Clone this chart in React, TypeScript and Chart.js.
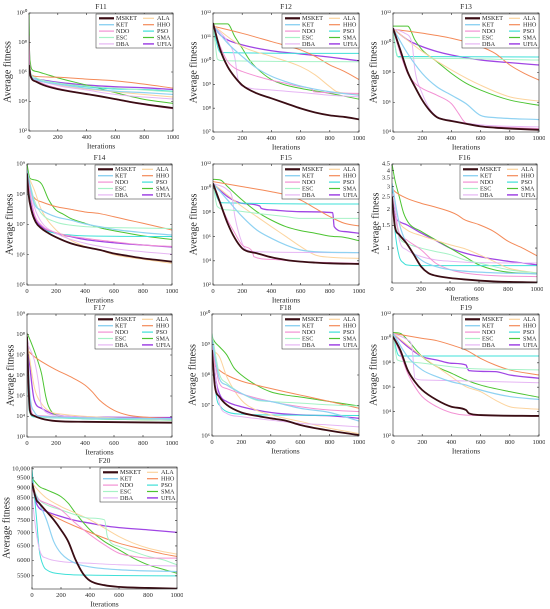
import React, { useEffect, useRef } from 'react';
import { Chart, registerables } from 'chart.js';
Chart.register(...registerables);

type Series = [number, number][];
type PanelData = Record<string, Series>;

const ALGOS = ['MSKET', 'KET', 'NDO', 'ESC', 'DBA', 'ALA', 'HHO', 'PSO', 'SMA', 'UFIA'];
const COLORS: Record<string, string> = {
  MSKET: '#3a0d14', KET: '#8fd2f2', NDO: '#f392d4', ESC: '#a6f2c6', DBA: '#e6b6f4',
  ALA: '#fcd49e', HHO: '#f48a58', PSO: '#3fe0d8', SMA: '#4cc431', UFIA: '#a045e4',
};
const WIDTHS: Record<string, number> = {
  MSKET: 1.8, KET: 1.2, NDO: 1, ESC: 1, DBA: 1, ALA: 1, HHO: 1, PSO: 1, SMA: 1, UFIA: 1.3,
};
const X_TICKS = [0, 200, 400, 600, 800, 1000];
const X_LABELS = ['0', '200', '400', '600', '800', '1000'];

const F11: PanelData = {
  MSKET: [[0, 3e6], [10, 5.6e5], [50, 2.2e5], [100, 1.3e5], [200, 6.9e4], [300, 4.6e4], [400, 3.2e4], [500, 2.2e4], [600, 1.45e4], [700, 9.5e3], [800, 6.6e3], [900, 4.8e3], [1000, 3.6e3]],
  KET: [[0, 3e6], [10, 7e5], [50, 3e5], [200, 1.5e5], [400, 8e4], [600, 5e4], [800, 4e4], [1000, 3e4]],
  NDO: [[0, 3e8], [5, 3e6], [10, 8e5], [50, 2.8e5], [100, 1.6e5], [200, 8e4], [400, 3.3e4], [600, 1.4e4], [800, 6e3], [1000, 3.2e3]],
  ESC: [[0, 4e6], [10, 1e6], [50, 4e5], [200, 1.8e5], [400, 1.1e5], [600, 8e4], [800, 6e4], [1000, 4.5e4]],
  DBA: [[0, 1e7], [10, 8e5], [50, 3e5], [200, 1.2e5], [400, 6e4], [600, 3e4], [800, 2e4], [1000, 1.5e4]],
  ALA: [[0, 3e6], [10, 6e5], [50, 3e5], [200, 1.3e5], [400, 7e4], [600, 4.5e4], [800, 3e4], [1000, 2e4]],
  HHO: [[0, 5e6], [10, 9e5], [30, 5.5e5], [50, 5e5], [200, 4.4e5], [400, 3.3e5], [600, 2.5e5], [800, 1.5e5], [1000, 8e4]],
  PSO: [[0, 2e6], [10, 5e5], [50, 3.2e5], [200, 1.7e5], [400, 1e5], [600, 7e4], [800, 6.5e4], [1000, 5e4]],
  SMA: [[0, 1e10], [3, 5e7], [10, 4e6], [20, 1.5e6], [50, 1.1e6], [100, 8e5], [200, 4e5], [400, 1.3e5], [600, 4e4], [800, 1.4e4], [1000, 7.5e3]],
  UFIA: [[0, 3e8], [5, 3e6], [10, 6e5], [50, 3.3e5], [100, 2.8e5], [200, 2e5], [400, 1.3e5], [600, 1e5], [800, 8.5e4], [1000, 6.5e4]],
};

const F12: PanelData = {
  MSKET: [[0, 3.8e11], [50, 2.8e10], [100, 5.6e9], [150, 2e9], [200, 9.3e8], [300, 4.2e8], [400, 2.6e8], [500, 1.6e8], [600, 9.8e7], [700, 6.6e7], [800, 5e7], [900, 4.3e7], [1000, 3.4e7]],
  KET: [[0, 3e11], [100, 5.4e10], [200, 1.5e10], [300, 4.8e9], [400, 2.2e9], [500, 1.3e9], [600, 8.5e8], [800, 4.9e8], [1000, 3.5e8]],
  NDO: [[0, 3e11], [50, 3.9e10], [100, 9.2e9], [150, 4.8e9], [200, 3.5e9], [300, 2.2e9], [400, 1.5e9], [500, 1.1e9], [600, 8e8], [680, 6.1e8], [690, 4.9e8], [1000, 4.2e8]],
  ESC: [[0, 3e11], [15, 5.4e10], [30, 1.15e10], [60, 1e10], [1000, 9e9]],
  DBA: [[0, 3e11], [100, 6.3e10], [150, 1.26e10], [170, 1.8e9], [185, 1e9], [200, 8.5e8], [400, 5.8e8], [600, 4.6e8], [800, 3.5e8], [1000, 3e8]],
  ALA: [[0, 3e11], [200, 3.9e10], [400, 1.5e10], [600, 5.6e9], [700, 2.5e9], [800, 8e8], [850, 4.9e8], [1000, 3.9e8]],
  HHO: [[0, 2.8e11], [200, 1.4e11], [400, 6.3e10], [600, 2.8e10], [700, 1.5e10], [800, 6.6e9], [900, 3.5e9], [1000, 1.6e9]],
  PSO: [[0, 3e11], [20, 7.4e10], [50, 2.2e10], [1000, 2e10]],
  SMA: [[0, 3.5e11], [100, 3.5e11], [150, 1e11], [200, 3.3e10], [250, 1.07e10], [300, 4.8e9], [400, 1.6e9], [500, 9.3e8], [600, 6.8e8], [800, 4.2e8], [1000, 2.4e8]],
  UFIA: [[0, 3e11], [50, 1.2e11], [100, 7.4e10], [200, 4.6e10], [400, 2.6e10], [600, 1.9e10], [800, 1.4e10], [1000, 9.8e9]],
};

const F13: PanelData = {
  MSKET: [[0, 9.5e10], [50, 3.3e9], [100, 1.1e8], [150, 1.1e7], [200, 1.4e6], [250, 2.9e5], [300, 1e5], [350, 6.8e4], [400, 5.5e4], [500, 3.6e4], [600, 2.4e4], [700, 1.95e4], [800, 1.7e4], [1000, 1.4e4]],
  KET: [[0, 9e10], [100, 1.9e9], [200, 8.7e7], [300, 1.1e7], [400, 3e6], [500, 8.1e5], [600, 1.3e5], [700, 9.3e4], [1000, 6.8e4]],
  NDO: [[0, 9e10], [50, 1.9e9], [100, 8.7e7], [150, 1.9e7], [200, 8.5e6], [300, 3e6], [400, 8.1e5], [450, 1.7e5], [480, 6.1e4], [500, 4e4], [700, 2.2e4], [1000, 1.7e4]],
  ESC: [[0, 9e10], [20, 3.2e9], [40, 1e9], [200, 9e8], [1000, 6.9e8]],
  DBA: [[0, 9e10], [80, 4.4e10], [130, 9.3e9], [150, 1.5e8], [200, 3.9e6], [250, 3.8e5], [300, 1.1e5], [400, 6.1e4], [600, 3e4], [1000, 2.2e4]],
  ALA: [[0, 9e10], [200, 2.6e9], [400, 1.5e8], [600, 1.4e7], [800, 2.3e6], [1000, 1.2e6]],
  HHO: [[0, 8.1e10], [200, 4.4e10], [400, 2e10], [600, 5.5e9], [700, 1.9e9], [800, 3.2e8], [900, 8.7e7], [1000, 3.1e7]],
  PSO: [[0, 9e10], [15, 5.5e9], [30, 1.2e9], [1000, 1.1e9]],
  SMA: [[0, 1.3e11], [100, 1.3e11], [150, 1.55e10], [200, 3.3e9], [300, 5.4e8], [400, 8.7e7], [500, 1.9e7], [600, 6.6e6], [800, 1.4e6], [1000, 6.3e5]],
  UFIA: [[0, 9e10], [100, 1.55e10], [200, 5.5e9], [300, 2.6e9], [400, 1.5e9], [600, 6.9e8], [800, 4.6e8], [1000, 3.2e8]],
};

const F14: PanelData = {
  MSKET: [[0, 4.9e8], [10, 1.07e8], [30, 3e7], [60, 1.2e7], [100, 7.4e6], [150, 5.1e6], [200, 3.8e6], [300, 2.4e6], [400, 1.8e6], [500, 1.45e6], [600, 1.1e6], [700, 9.1e5], [800, 7.6e5], [900, 6.7e5], [1000, 5.9e5]],
  KET: [[0, 6.3e8], [50, 5e7], [100, 3e7], [200, 1.8e7], [300, 1.4e7], [400, 1.05e7], [500, 8.5e6], [600, 6.9e6], [800, 5.4e6], [1000, 4.5e6]],
  NDO: [[0, 3.8e8], [50, 2.3e7], [100, 9.5e6], [200, 5.4e6], [400, 3.5e6], [600, 2.7e6], [800, 2.1e6], [1000, 1.9e6]],
  ESC: [[0, 6.3e8], [50, 6.5e7], [100, 2.3e7], [200, 1.2e7], [300, 9.5e6], [400, 8.5e6], [600, 7.9e6], [1000, 7.4e6]],
  DBA: [[0, 4.9e8], [50, 3.9e7], [100, 1.2e7], [200, 5.1e6], [400, 2.4e6], [600, 1.6e6], [800, 1.26e6], [1000, 1.05e6]],
  ALA: [[0, 4.9e8], [50, 1.4e8], [100, 3e7], [200, 6.6e6], [300, 3.1e6], [400, 1.9e6], [500, 1.45e6], [600, 1e6], [800, 7.1e5], [1000, 5.2e5]],
  HHO: [[0, 3e8], [30, 1.07e8], [60, 6.8e7], [100, 5.6e7], [200, 3.9e7], [300, 3.2e7], [400, 2.6e7], [500, 2.3e7], [600, 1.8e7], [700, 1.4e7], [800, 1.1e7], [1000, 6.6e6]],
  PSO: [[0, 6.3e8], [30, 3e7], [60, 1.2e7], [100, 7.4e6], [200, 5.1e6], [300, 4.5e6], [400, 4.2e6], [1000, 4e6]],
  SMA: [[0, 1e9], [20, 3.4e8], [50, 3e8], [100, 2.2e8], [150, 6.5e7], [200, 3e7], [250, 2.2e7], [300, 1.6e7], [400, 1.1e7], [500, 7.9e6], [600, 6.2e6], [700, 5.1e6], [800, 4.2e6], [1000, 3.2e6]],
  UFIA: [[0, 6.3e8], [30, 3.9e7], [60, 1.4e7], [100, 8.5e6], [200, 5.1e6], [300, 4e6], [400, 3.2e6], [600, 2.5e6], [800, 2.1e6], [1000, 1.8e6]],
};

const F15: PanelData = {
  MSKET: [[0, 2.5e10], [50, 5.6e8], [100, 1.26e7], [150, 7.2e5], [200, 1.07e5], [230, 6.5e4], [300, 4.2e4], [400, 1.95e4], [500, 1.17e4], [600, 8.5e3], [700, 7.1e3], [800, 6.2e3], [1000, 5.5e3]],
  KET: [[0, 2.5e10], [100, 1.05e9], [200, 4.5e7], [300, 3.5e6], [400, 7.2e5], [500, 2e5], [600, 7.8e4], [700, 5.6e4], [1000, 4.7e4]],
  NDO: [[0, 2.5e10], [50, 5.6e8], [100, 2.3e7], [150, 1.9e6], [200, 2e5], [270, 5.6e4], [280, 2.2e4], [400, 1.3e4], [600, 8.5e3], [1000, 6.2e3]],
  ESC: [[0, 2.5e10], [30, 3e8], [100, 1.6e8], [300, 8.3e7], [500, 4.5e7], [600, 3.2e7], [1000, 3.2e7]],
  DBA: [[0, 2.5e10], [100, 7.1e9], [130, 2e9], [150, 4.5e7], [200, 2.8e5], [230, 7.8e4], [300, 5.6e4], [1000, 4.7e4]],
  ALA: [[0, 2.5e10], [200, 3e8], [300, 4.5e7], [400, 6.6e6], [500, 1e6], [600, 1.5e5], [700, 3e4], [800, 1.95e4], [1000, 1.6e4]],
  HHO: [[0, 3.5e10], [200, 1.35e10], [400, 5.1e9], [500, 2.8e9], [600, 1.05e9], [700, 2.2e8], [800, 4.5e7], [900, 1.26e7], [1000, 7.6e6]],
  PSO: [[0, 2.5e10], [30, 1.45e9], [60, 6.3e8], [1000, 4.9e8]],
  SMA: [[0, 5.4e10], [50, 4.8e10], [100, 1.35e10], [200, 1.05e9], [300, 1.15e8], [400, 2.3e7], [500, 6.6e6], [600, 3.1e6], [700, 1.9e6], [800, 1.1e6], [900, 8.7e5], [1000, 4.6e5]],
  UFIA: [[0, 2.5e10], [100, 2e9], [200, 5.6e8], [320, 3.4e8], [330, 2.2e8], [400, 1.6e8], [600, 1.15e8], [820, 9.5e7], [830, 6.6e6], [900, 2.6e6], [1000, 1.9e6]],
};

const F16: PanelData = {
  MSKET: [[0, 2.51], [20, 1.47], [50, 1.27], [100, 1.09], [150, 0.89], [200, 0.72], [250, 0.64], [300, 0.61], [400, 0.585], [500, 0.57], [700, 0.55], [1000, 0.54]],
  KET: [[0, 3.19], [50, 1.56], [100, 1.09], [200, 0.81], [300, 0.72], [400, 0.68], [600, 0.65], [1000, 0.63]],
  NDO: [[0, 2.23], [50, 1.31], [100, 1.16], [200, 0.97], [300, 0.765], [400, 0.68], [500, 0.64], [700, 0.61], [1000, 0.6]],
  ESC: [[0, 2.37], [50, 1.23], [100, 1.09], [200, 1.0], [300, 0.94], [400, 0.89], [500, 0.81], [600, 0.765], [800, 0.68], [1000, 0.64]],
  DBA: [[0, 2.67], [30, 1.76], [50, 1.16], [100, 0.97], [200, 0.86], [300, 0.81], [400, 0.79], [600, 0.77], [1000, 0.765]],
  ALA: [[0, 2.67], [50, 1.61], [100, 1.39], [200, 1.25], [300, 1.15], [400, 1.06], [500, 0.99], [600, 0.89], [700, 0.79], [800, 0.7], [1000, 0.64]],
  HHO: [[0, 2.92], [20, 2.75], [100, 2.44], [200, 2.23], [300, 2.08], [400, 1.92], [450, 1.81], [500, 1.66], [600, 1.52], [700, 1.35], [800, 1.13], [900, 1.0], [1000, 0.87]],
  PSO: [[0, 3.0], [20, 1.39], [50, 0.86], [80, 0.765], [100, 0.74], [200, 0.73], [1000, 0.73]],
  SMA: [[0, 4.5], [20, 3.39], [50, 2.51], [80, 1.87], [120, 1.54], [200, 1.35], [300, 1.16], [400, 1.0], [500, 0.86], [600, 0.74], [700, 0.68], [800, 0.65], [1000, 0.63]],
  UFIA: [[0, 2.83], [20, 1.81], [50, 1.61], [100, 1.52], [200, 1.31], [300, 1.15], [400, 1.0], [500, 0.915], [600, 0.86], [700, 0.82], [800, 0.79], [900, 0.765], [1000, 0.74]],
};

const F17: PanelData = {
  MSKET: [[0, 8e7], [10, 4.1e5], [20, 2e4], [40, 1.15e4], [100, 7.9e3], [200, 6e3], [400, 5.5e3], [1000, 5e3]],
  KET: [[0, 8e7], [20, 1.3e5], [50, 1.7e4], [100, 1e4], [1000, 7.9e3]],
  NDO: [[0, 1.2e8], [20, 6.3e4], [50, 1.15e4], [1000, 7.9e3]],
  ESC: [[0, 1.2e7], [20, 1.4e4], [100, 8.9e3], [1000, 6.6e3]],
  DBA: [[0, 3.8e7], [50, 5.8e6], [80, 4.1e5], [100, 3e4], [200, 1.15e4], [1000, 7.4e3]],
  ALA: [[0, 5.5e7], [50, 2.8e5], [100, 4.3e4], [200, 1.4e4], [1000, 7.9e3]],
  HHO: [[0, 1.8e7], [50, 8.3e6], [100, 4.8e6], [200, 1.9e6], [300, 8.7e5], [400, 3.4e5], [450, 1.6e5], [500, 6.3e4], [600, 2e4], [700, 1.15e4], [800, 9.5e3], [1000, 7.9e3]],
  PSO: [[0, 1.8e7], [15, 2e4], [50, 9.5e3], [1000, 7.1e3]],
  SMA: [[0, 1.2e8], [30, 3.8e7], [80, 3.9e6], [100, 1.26e6], [130, 9.1e4], [150, 3e4], [200, 1.15e4], [400, 7.9e3], [1000, 6.6e3]],
  UFIA: [[0, 8e7], [20, 2.7e6], [50, 6.3e4], [100, 2.5e4], [200, 1.2e4], [400, 9.5e3], [1000, 8.9e3]],
};

const F18: PanelData = {
  MSKET: [[0, 6.6e8], [20, 4.2e7], [50, 1.95e7], [100, 1.05e7], [200, 5.9e6], [300, 4.6e6], [400, 3.8e6], [500, 3.2e6], [600, 2.3e6], [800, 1.5e6], [1000, 1.07e6]],
  KET: [[0, 1.4e9], [50, 7.8e7], [100, 4.7e7], [200, 2.5e7], [300, 1.6e7], [400, 1.35e7], [500, 1.05e7], [600, 8.1e6], [800, 5.9e6], [1000, 3.1e6]],
  NDO: [[0, 1.1e9], [50, 5.4e7], [100, 3.6e7], [200, 2.4e7], [400, 1.35e7], [600, 9.1e6], [800, 7.1e6], [1000, 6.3e6]],
  ESC: [[0, 2.3e9], [50, 1.1e8], [100, 5.4e7], [200, 2.5e7], [300, 1.5e7], [400, 1.35e7], [600, 1.2e7], [800, 1.05e7], [1000, 9.6e6]],
  DBA: [[0, 8.5e8], [50, 1.2e7], [100, 5.5e6], [200, 4.3e6], [400, 3.3e6], [600, 2.6e6], [800, 2.3e6], [1000, 2e6]],
  ALA: [[0, 6.6e8], [50, 4e8], [100, 8.9e7], [200, 1.5e7], [300, 7.1e6], [400, 4.9e6], [500, 3.8e6], [600, 3e6], [800, 1.8e6], [1000, 1.2e6]],
  HHO: [[0, 6.6e8], [20, 2.1e8], [50, 1.45e8], [100, 1e8], [200, 6.3e7], [300, 4.7e7], [400, 3.6e7], [500, 2.8e7], [600, 2.2e7], [800, 1.35e7], [1000, 8.1e6]],
  PSO: [[0, 6.6e8], [30, 1.95e7], [60, 9.1e6], [100, 6.3e6], [200, 5.2e6], [400, 4.9e6], [1000, 4.7e6]],
  SMA: [[0, 1.8e9], [20, 1.2e9], [50, 8.5e8], [100, 4.6e8], [150, 1.7e8], [200, 1e8], [300, 4.7e7], [400, 2.8e7], [500, 2.2e7], [600, 1.9e7], [800, 1.35e7], [1000, 9.6e6]],
  UFIA: [[0, 8.5e8], [30, 5.4e7], [60, 1.95e7], [100, 1.35e7], [200, 9.1e6], [300, 7.1e6], [400, 5.9e6], [600, 4.9e6], [800, 4.6e6], [1000, 3.8e6]],
};

const F19: PanelData = {
  MSKET: [[0, 1.4e10], [50, 1.1e9], [100, 2.6e7], [150, 2.8e6], [200, 5.9e5], [300, 8.9e4], [400, 2.5e4], [500, 1.35e4], [520, 7.2e3], [600, 5.2e3], [1000, 4.4e3]],
  KET: [[0, 2.6e10], [100, 3.2e8], [200, 2.6e7], [300, 7.2e6], [400, 2.8e6], [500, 1.5e6], [600, 5.9e5], [800, 1.7e5], [1000, 1e5]],
  NDO: [[0, 1.4e10], [50, 6e8], [100, 1.4e7], [150, 1.1e6], [200, 1.7e5], [300, 2.5e4], [400, 8.1e3], [500, 5.2e3], [1000, 4.4e3]],
  ESC: [[0, 2.6e10], [30, 1.7e8], [100, 1.2e8], [300, 6.6e7], [500, 3.5e7], [800, 2.9e7], [1000, 2.6e7]],
  DBA: [[0, 2.6e10], [100, 7.4e9], [130, 2.1e9], [150, 5.4e6], [200, 3.9e6], [1000, 2.3e6]],
  ALA: [[0, 2.6e10], [200, 3.2e8], [300, 4.8e7], [400, 7.2e6], [500, 1.1e6], [600, 4.3e5], [700, 8.9e4], [800, 2.5e4], [900, 1.85e4], [1000, 1.55e4]],
  HHO: [[0, 2.6e10], [200, 1e10], [300, 6.5e9], [400, 2.9e9], [500, 1.1e9], [600, 2.3e8], [700, 6.6e7], [800, 2.6e7], [1000, 1e7]],
  PSO: [[0, 2.6e10], [30, 6e8], [50, 3.6e8], [1000, 3.6e8]],
  SMA: [[0, 3e10], [50, 2.6e10], [100, 7.4e9], [200, 3.2e8], [300, 4.8e7], [400, 1.4e7], [500, 3.9e6], [600, 1.5e6], [800, 4.3e5], [1000, 1.5e5]],
  UFIA: [[0, 2.6e10], [100, 2.1e9], [200, 3.2e8], [300, 1.7e8], [400, 9.1e7], [500, 6.6e7], [510, 3.5e7], [520, 2.3e7], [700, 1.9e7], [800, 1e7], [1000, 5.4e6]],
};

const F20: PanelData = {
  MSKET: [[0, 9230], [30, 8410], [50, 8250], [100, 7880], [150, 7520], [200, 7110], [250, 6660], [300, 6020], [350, 5580], [400, 5350], [500, 5220], [600, 5170], [800, 5140], [1000, 5120]],
  KET: [[0, 9060], [50, 8250], [100, 7520], [150, 6660], [200, 6240], [300, 5900], [400, 5780], [600, 5690], [1000, 5630]],
  NDO: [[0, 8890], [50, 8410], [100, 8250], [200, 7950], [300, 7380], [400, 6920], [500, 6540], [600, 6240], [700, 6130], [800, 6070], [1000, 6070]],
  ESC: [[0, 9060], [50, 8410], [100, 8180], [200, 7950], [300, 7730], [400, 7590], [500, 7520], [520, 6850], [600, 6480], [700, 6300], [800, 6130], [900, 6020], [1000, 5850]],
  DBA: [[0, 8560], [30, 6980], [60, 6240], [100, 6070], [200, 5960], [400, 5900], [600, 5850], [1000, 5810]],
  ALA: [[0, 9230], [50, 8810], [100, 8490], [200, 8100], [300, 7810], [400, 7520], [500, 7180], [600, 6850], [700, 6600], [800, 6420], [900, 6300], [1000, 6210]],
  HHO: [[0, 9230], [50, 8250], [100, 7880], [200, 7520], [300, 7250], [400, 7010], [500, 6790], [600, 6600], [700, 6460], [800, 6340], [900, 6220], [1000, 6130]],
  PSO: [[0, 9950], [30, 7660], [50, 6360], [80, 5800], [100, 5690], [200, 5560], [400, 5520], [1000, 5500]],
  SMA: [[0, 9490], [50, 9060], [100, 8890], [200, 8560], [250, 8250], [300, 7810], [400, 7110], [500, 6660], [600, 6360], [700, 6070], [800, 5850], [900, 5710], [1000, 5580]],
  UFIA: [[0, 9320], [30, 8250], [100, 7880], [200, 7660], [300, 7490], [400, 7380], [500, 7270], [600, 7200], [800, 7110], [1000, 7010]],
};

const TICKS_2_10 = [1e2, 1e4, 1e6, 1e8, 1e10];
const LABELS_2_10 = ['10²', '10⁴', '10⁶', '10⁸', '10¹⁰'];
const TICKS_7_12 = [1e7, 1e8, 1e9, 1e10, 1e11, 1e12];
const LABELS_7_12 = ['10⁷', '10⁸', '10⁹', '10¹⁰', '10¹¹', '10¹²'];
const TICKS_4_12 = [1e4, 1e6, 1e8, 1e10, 1e12];
const LABELS_4_12 = ['10⁴', '10⁶', '10⁸', '10¹⁰', '10¹²'];
const TICKS_5_9 = [1e5, 1e6, 1e7, 1e8, 1e9];
const LABELS_5_9 = ['10⁵', '10⁶', '10⁷', '10⁸', '10⁹'];
const TICKS_2_12 = [1e2, 1e4, 1e6, 1e8, 1e10, 1e12];
const LABELS_2_12 = ['10²', '10⁴', '10⁶', '10⁸', '10¹⁰', '10¹²'];
const TICKS_F16 = [1, 1.5, 2, 2.5, 3, 3.5, 4, 4.5];
const LABELS_F16 = ['1', '1.5', '2', '2.5', '3', '3.5', '4', '4.5'];
const TICKS_3_9 = [1e3, 1e4, 1e5, 1e6, 1e7, 1e8, 1e9];
const LABELS_3_9 = ['10³', '10⁴', '10⁵', '10⁶', '10⁷', '10⁸', '10⁹'];
const TICKS_6_10 = [1e6, 1e7, 1e8, 1e9, 1e10];
const LABELS_6_10 = ['10⁶', '10⁷', '10⁸', '10⁹', '10¹⁰'];
const TICKS_F20 = [5500, 6000, 6500, 7000, 7500, 8000, 8500, 9000, 9500, 10000];
const LABELS_F20 = ['5500', '6000', '6500', '7000', '7500', '8000', '8500', '9000', '9500', '10,000'];

interface PanelCfg {
  title: string; data: PanelData; yMin: number; yMax: number; ticks: number[]; labels: string[];
  L: number; R: number; T: number; B: number; cx: number; off: number;
}

const PANELS: PanelCfg[] = [
  { title: 'F11', data: F11, yMin: 1e2, yMax: 1e10, ticks: TICKS_2_10, labels: LABELS_2_10, L: 29, R: 173, T: 13, B: 131, cx: 0, off: 21 },
  { title: 'F12', data: F12, yMin: 1e7, yMax: 1e12, ticks: TICKS_7_12, labels: LABELS_7_12, L: 213, R: 359, T: 13, B: 132, cx: 180, off: 19 },
  { title: 'F13', data: F13, yMin: 1e4, yMax: 1e12, ticks: TICKS_4_12, labels: LABELS_4_12, L: 393, R: 539, T: 13, B: 132, cx: 360, off: 19 },
  { title: 'F14', data: F14, yMin: 1e5, yMax: 1e9, ticks: TICKS_5_9, labels: LABELS_5_9, L: 27, R: 172, T: 164, B: 285, cx: 0, off: 17 },
  { title: 'F15', data: F15, yMin: 1e2, yMax: 1e12, ticks: TICKS_2_12, labels: LABELS_2_12, L: 213, R: 359, T: 164, B: 285, cx: 180, off: 19 },
  { title: 'F16', data: F16, yMin: 0.535, yMax: 4.5, ticks: TICKS_F16, labels: LABELS_F16, L: 392, R: 537, T: 164, B: 283, cx: 360, off: 16 },
  { title: 'F17', data: F17, yMin: 1e3, yMax: 1e9, ticks: TICKS_3_9, labels: LABELS_3_9, L: 27, R: 172, T: 314, B: 437, cx: 0, off: 16 },
  { title: 'F18', data: F18, yMin: 1e6, yMax: 1e10, ticks: TICKS_6_10, labels: LABELS_6_10, L: 212, R: 359, T: 314, B: 436, cx: 180, off: 19 },
  { title: 'F19', data: F19, yMin: 1e2, yMax: 1e12, ticks: TICKS_2_12, labels: LABELS_2_12, L: 393, R: 539, T: 314, B: 436, cx: 360, off: 19 },
  { title: 'F20', data: F20, yMin: 5110, yMax: 10100, ticks: TICKS_F20, labels: LABELS_F20, L: 32, R: 177, T: 467, B: 589, cx: 0, off: 25 },
];

const FONT = "'Liberation Serif', 'Times New Roman', serif";
const INK = '#262626';
const TOP_SPACE = 12;
const BOTTOM_SPACE = 20;
const RIGHT_SPACE = 6;

function Panel({ cfg }: { cfg: PanelCfg }) {
  const ref = useRef<HTMLCanvasElement>(null);
  const Lw = cfg.L - cfg.cx;
  const w = Lw + (cfg.R - cfg.L) + RIGHT_SPACE;
  const h = TOP_SPACE + (cfg.B - cfg.T) + BOTTOM_SPACE;

  useEffect(() => {
    if (!ref.current) return;
    const frame = {
      id: 'frame',
      afterDatasetsDraw(chart: any) {
        const { ctx, chartArea: a, scales } = chart;
        ctx.save();
        ctx.strokeStyle = INK;
        ctx.lineWidth = 0.6;
        ctx.strokeRect(a.left, a.top, a.right - a.left, a.bottom - a.top);
        ctx.beginPath();
        X_TICKS.forEach((v) => {
          const px = scales.x.getPixelForValue(v);
          ctx.moveTo(px, a.bottom); ctx.lineTo(px, a.bottom - 2);
          ctx.moveTo(px, a.top); ctx.lineTo(px, a.top + 2);
        });
        cfg.ticks.forEach((v) => {
          const py = scales.y.getPixelForValue(v);
          ctx.moveTo(a.left, py); ctx.lineTo(a.left + 2, py);
          ctx.moveTo(a.right, py); ctx.lineTo(a.right - 2, py);
        });
        ctx.stroke();
        ctx.fillStyle = INK;
        ctx.font = `7.5px ${FONT}`;
        ctx.textAlign = 'center';
        ctx.textBaseline = 'middle';
        ctx.fillText(cfg.title, (a.left + a.right) / 2, a.top - 6);
        const lw = 77, lh = 34;
        const bx = a.right - lw, by = a.top + 1;
        ctx.fillStyle = '#ffffff';
        ctx.fillRect(bx, by, lw, lh);
        ctx.strokeStyle = INK;
        ctx.lineWidth = 0.5;
        ctx.strokeRect(bx, by, lw, lh);
        ctx.font = `6.2px ${FONT}`;
        ctx.textAlign = 'left';
        ALGOS.forEach((name, i) => {
          const col = i < 5 ? 0 : 1;
          const row = i % 5;
          const yy = by + 4.3 + row * 6.4;
          const x0 = bx + (col === 0 ? 3 : 47);
          const x1 = bx + (col === 0 ? 18 : 58);
          ctx.strokeStyle = COLORS[name];
          ctx.lineWidth = WIDTHS[name] + (name === 'MSKET' ? 0.4 : 0.2);
          ctx.beginPath(); ctx.moveTo(x0, yy); ctx.lineTo(x1, yy); ctx.stroke();
          ctx.fillStyle = INK;
          ctx.fillText(name, bx + (col === 0 ? 20 : 61), yy + 0.3);
        });
        ctx.restore();
      },
    };

    const datasets = ALGOS.map((name) => ({
      label: name,
      data: cfg.data[name].map(([x, y]) => ({ x, y })),
      borderColor: COLORS[name],
      backgroundColor: COLORS[name],
      borderWidth: WIDTHS[name],
      pointRadius: 0,
      cubicInterpolationMode: 'monotone' as const,
      fill: false,
    }));

    const chart = new Chart(ref.current, {
      type: 'line',
      data: { datasets },
      plugins: [frame],
      options: {
        animation: false,
        responsive: false,
        devicePixelRatio: 2,
        events: [],
        layout: { padding: { top: TOP_SPACE, right: RIGHT_SPACE, left: 0, bottom: 0 } },
        plugins: { legend: { display: false }, title: { display: false }, tooltip: { enabled: false } },
        scales: {
          x: {
            type: 'linear', min: 0, max: 1000,
            grid: { display: false, drawTicks: false, tickLength: 0 },
            border: { display: false },
            afterBuildTicks: (s: any) => { s.ticks = X_TICKS.map((v) => ({ value: v })); },
            afterFit: (s: any) => { s.height = BOTTOM_SPACE; s.paddingLeft = 0; s.paddingRight = 0; },
            ticks: {
              font: { family: FONT, size: 6.5 }, color: INK, padding: 2.5, maxRotation: 0, autoSkip: false,
              callback: (v: any) => { const i = X_TICKS.indexOf(Number(v)); return i >= 0 ? X_LABELS[i] : ''; },
            },
            title: { display: true, text: 'Iterations', font: { family: FONT, size: 7.5 }, color: INK, padding: { top: 0, bottom: 0 } },
          },
          y: {
            type: 'logarithmic', min: cfg.yMin, max: cfg.yMax,
            grid: { display: false, drawTicks: false, tickLength: 0 },
            border: { display: false },
            afterBuildTicks: (s: any) => { s.ticks = cfg.ticks.map((v) => ({ value: v })); },
            afterFit: (s: any) => { s.width = Lw; s.paddingTop = 0; s.paddingBottom = 0; },
            ticks: {
              font: { family: FONT, size: 6.5 }, color: INK, padding: 2, autoSkip: false,
              callback: (v: any) => {
                let best = 0;
                cfg.ticks.forEach((t, i) => { if (Math.abs(t - Number(v)) < Math.abs(cfg.ticks[best] - Number(v))) best = i; });
                return cfg.labels[best];
              },
            },
            title: {
              display: true, text: 'Average fitness', font: { family: FONT, size: 10 }, color: INK,
              padding: { top: Math.max(0, Lw - cfg.off - 6), bottom: 0 },
            },
          },
        },
      } as any,
    });
    return () => chart.destroy();
  }, [cfg]);

  return (
    <canvas
      ref={ref}
      width={w}
      height={h}
      style={{ position: 'absolute', left: cfg.cx, top: cfg.T - TOP_SPACE, width: w, height: h }}
    />
  );
}

export default function App() {
  useEffect(() => {
    document.body.style.margin = '0';
    document.body.style.background = '#ffffff';
  }, []);
  return (
    <div style={{ position: 'relative', width: 550, height: 609, background: '#ffffff', overflow: 'hidden' }}>
      {PANELS.map((p) => (
        <Panel key={p.title} cfg={p} />
      ))}
    </div>
  );
}
